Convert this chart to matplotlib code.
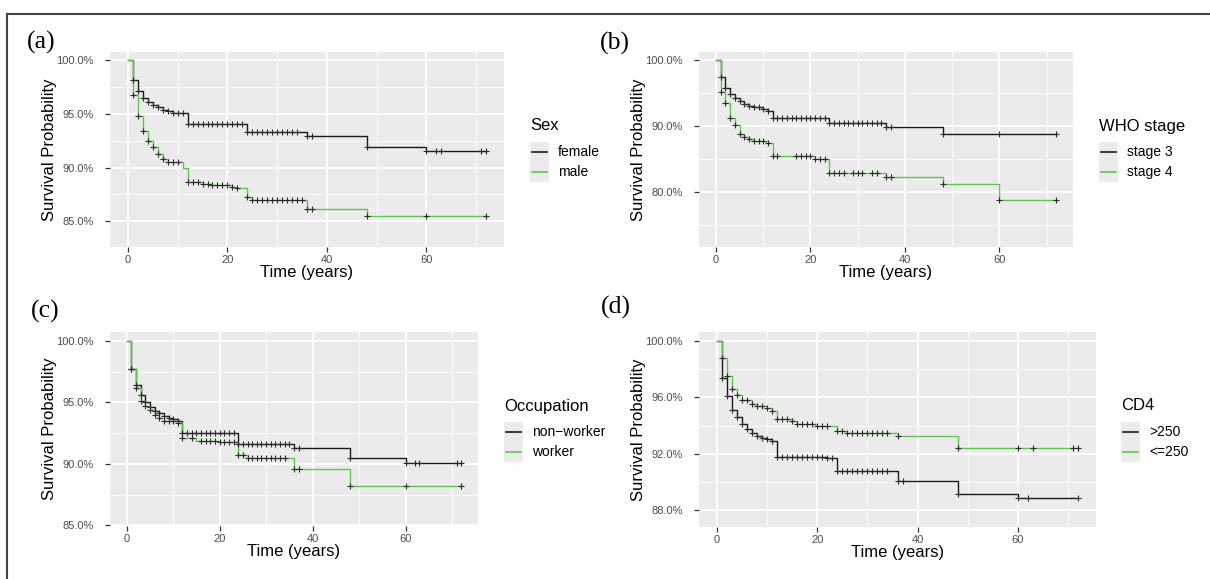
import numpy as np
import matplotlib
matplotlib.use("Agg")
import matplotlib.pyplot as plt
from matplotlib.patches import Rectangle
from matplotlib.lines import Line2D
from matplotlib.ticker import FuncFormatter

plt.rcParams['font.family'] = ['Liberation Sans', 'DejaVu Sans']

# ---------------- data ----------------
# (a) Sex
a_female_t = [1, 2, 3, 4, 5, 6, 7, 8, 9, 12, 24, 36, 48, 60]
a_female_s = [98.2, 97.1, 96.5, 96.1, 95.8, 95.6, 95.4, 95.25, 95.1, 94.1, 93.35, 92.9, 91.9, 91.5]
a_female_c = list(range(1, 12)) + list(range(12, 24)) + list(range(24, 35)) + [36, 37, 48, 60, 62, 63, 71, 72]
a_male_t = [1, 2, 3, 4, 5, 6, 7, 8, 11, 12, 15, 17, 21, 22, 24, 25, 36, 48]
a_male_s = [96.8, 94.85, 93.45, 92.45, 91.9, 91.3, 90.8, 90.5, 89.95, 88.65, 88.5, 88.35, 88.2, 88.1, 87.25, 87.0, 86.15, 85.45]
a_male_c = list(range(1, 11)) + list(range(12, 23)) + list(range(24, 36)) + [36, 37, 48, 60, 72]

# (b) WHO stage
b_s3_t = [1, 2, 3, 4, 5, 6, 7, 8, 10, 11, 12, 24, 36, 48]
b_s3_s = [97.4, 95.7, 94.8, 94.2, 93.7, 93.3, 93.05, 92.8, 92.5, 92.3, 91.25, 90.4, 89.8, 88.8]
b_s3_c = list(range(1, 12)) + list(range(12, 24)) + list(range(24, 36)) + [36, 37, 48, 60, 72]
b_s4_t = [1, 2, 3, 4, 5, 6, 7, 8, 11, 12, 21, 24, 36, 48, 60]
b_s4_s = [95.2, 93.5, 91.15, 90.15, 88.8, 88.3, 88.0, 87.7, 87.35, 85.4, 85.0, 82.9, 82.2, 81.1, 78.8]
b_s4_c = list(range(1, 14)) + [17, 18, 19, 20, 21, 22, 23, 24, 25, 26, 27, 29, 30, 31, 33, 34, 36, 37, 48, 60, 72]

# (c) Occupation
c_nw_t = [1, 2, 3, 4, 5, 6, 7, 8, 9, 10, 11, 12, 24, 36, 48, 60]
c_nw_s = [97.75, 96.45, 95.6, 95.05, 94.65, 94.3, 94.1, 93.9, 93.75, 93.65, 93.5, 92.5, 91.65, 91.25, 90.45, 90.05]
c_nw_c = list(range(1, 12)) + list(range(12, 24)) + list(range(24, 36)) + [36, 37, 48, 60, 62, 63, 71, 72]
c_w_t = [1, 2, 3, 4, 5, 6, 7, 8, 11, 12, 15, 20, 24, 26, 36, 48]
c_w_s = [97.7, 96.2, 95.1, 94.7, 94.35, 94.0, 93.7, 93.5, 93.3, 92.1, 91.9, 91.75, 90.7, 90.5, 89.6, 88.2]
c_w_c = list(range(1, 12)) + [12, 14] + list(range(16, 24)) + [24, 25] + list(range(26, 35)) + [36, 37, 48, 60, 72]

# (d) CD4
d_hi_t = [1, 2, 3, 4, 5, 6, 7, 8, 9, 10, 11, 12, 22, 24, 36, 48, 60]
d_hi_s = [97.4, 96.1, 95.1, 94.6, 94.15, 93.8, 93.5, 93.25, 93.15, 93.05, 92.9, 91.8, 91.7, 90.8, 90.1, 89.15, 88.85]
d_hi_c = list(range(1, 12)) + list(range(12, 24)) + list(range(24, 35)) + [36, 37, 48, 60, 62, 72]
d_lo_t = [1, 2, 3, 4, 5, 7, 8, 10, 11, 12, 15, 16, 20, 24, 26, 36, 48]
d_lo_s = [98.8, 97.5, 96.6, 96.15, 95.8, 95.55, 95.4, 95.25, 95.05, 94.45, 94.3, 94.1, 94.0, 93.65, 93.45, 93.25, 92.4]
d_lo_c = list(range(1, 12)) + list(range(12, 23)) + list(range(24, 35)) + [36, 48, 60, 63, 71, 72]

panel_tags = ["(a)", "(b)", "(c)", "(d)"]
legend_titles = ["Sex", "WHO stage", "Occupation", "CD4"]
legend_labels = [["female", "male"], ["stage 3", "stage 4"],
                 ["non\u2212worker", "worker"], [">250", "<=250"]]
x_ticks = [0, 20, 40, 60]
y_ticks = [[85, 90, 95, 100], [80, 90, 100], [85, 90, 95, 100], [88, 92, 96, 100]]
y_minor = [[87.5, 92.5, 97.5], [75, 85, 95], [87.5, 92.5, 97.5], [90, 94, 98]]
x_minor = [10, 30, 50, 70]
y_lims = [(82.6, 100.77), (71.6, 101.2), (84.95, 100.72), (86.83, 100.63)]
t_max = 72

BLACK = '#1a1a1a'
GREEN = '#62c453'

series = [
    [(a_female_t, a_female_s, a_female_c, BLACK), (a_male_t, a_male_s, a_male_c, GREEN)],
    [(b_s3_t, b_s3_s, b_s3_c, BLACK), (b_s4_t, b_s4_s, b_s4_c, GREEN)],
    [(c_nw_t, c_nw_s, c_nw_c, BLACK), (c_w_t, c_w_s, c_w_c, GREEN)],
    [(d_hi_t, d_hi_s, d_hi_c, BLACK), (d_lo_t, d_lo_s, d_lo_c, GREEN)],
]

W, H = 1210, 579
fig = plt.figure(figsize=(W / 100, H / 100), dpi=100)

def fx(px):
    return px / W

def fy(py):
    return 1 - py / H

# axes boxes in pixels (left, right, top, bottom)
boxes = [(110, 504, 52, 247), (699, 1073, 52, 247), (110, 478, 332, 526), (699, 1096, 332, 527)]
tag_pos = [(27, 42), (600, 43), (31, 311), (601, 307)]
leg_pos = [(530, 126), (1099, 126), (504, 406), (1121, 406)]

def surv_at(times, surv, c):
    times = np.asarray(times, float)
    surv = np.asarray(surv, float)
    idx = np.searchsorted(times, np.asarray(c, float), side='right') - 1
    return np.where(idx < 0, 100.0, surv[np.clip(idx, 0, None)])

for i in range(4):
    l, r, t, b = boxes[i]
    ax = fig.add_axes([fx(l), fy(b), (r - l) / W, (b - t) / H])
    ax.set_facecolor('#ebebeb')
    for sp in ax.spines.values():
        sp.set_visible(False)
    ax.set_xlim(-3.6, 75.6)
    ax.set_ylim(*y_lims[i])
    ax.set_xticks(x_ticks)
    ax.set_xticks(x_minor, minor=True)
    ax.set_yticks(y_ticks[i])
    ax.set_yticks(y_minor[i], minor=True)
    ax.yaxis.set_major_formatter(FuncFormatter(lambda v, p: f"{v:.1f}%"))
    ax.grid(which='major', color='white', lw=1.3)
    ax.grid(which='minor', color='white', lw=0.6)
    ax.set_axisbelow(True)
    ax.tick_params(which='major', length=3.5, width=0.9, color='#333333',
                   labelcolor='#4d4d4d', labelsize=8)
    ax.tick_params(axis='x', which='major', pad=2)
    ax.tick_params(axis='y', which='major', pad=8)
    ax.tick_params(which='minor', length=0)
    ax.set_xlabel("Time (years)", fontsize=12, labelpad=0.5)
    ax.set_ylabel("Survival Probability", fontsize=12, labelpad=0)

    for (tt, ss, cc, col) in series[i]:
        xs = [0] + list(tt) + [t_max]
        ys = [100] + list(ss) + [ss[-1]]
        ax.step(xs, ys, where='post', color=col, lw=1.0, zorder=3)
        ax.plot(cc, surv_at(tt, ss, cc), ls='none', marker='+', ms=4,
                mew=0.8, color='#2a2a2a', zorder=4)

    # panel tag
    fig.text(fx(tag_pos[i][0]), fy(tag_pos[i][1]), panel_tags[i],
             family='Liberation Serif', fontsize=18.5, ha='left', va='center')

    # legend (ggplot style)
    lx, ly = leg_pos[i]
    fig.text(fx(lx), fy(ly), legend_titles[i], fontsize=12, ha='left', va='center')
    fig.patches.append(Rectangle((fx(lx), fy(ly + 56)), 19 / W, 40 / H,
                                 transform=fig.transFigure, facecolor='#ebebeb',
                                 edgecolor='none'))
    for k, (lab, col) in enumerate(zip(legend_labels[i], [BLACK, GREEN])):
        yy = ly + 26 + 20 * k
        fig.lines.append(Line2D([fx(lx + 2), fx(lx + 17)], [fy(yy), fy(yy)],
                                transform=fig.transFigure, color=col, lw=1.2))
        fig.text(fx(lx + 28), fy(yy), lab, fontsize=10, ha='left', va='center')

# outer frame (top and left edges visible)
fig.lines.append(Line2D([fx(7), fx(W)], [fy(14), fy(14)], transform=fig.transFigure,
                        color='#444444', lw=1.5))
fig.lines.append(Line2D([fx(7), fx(7)], [fy(14), fy(H)], transform=fig.transFigure,
                        color='#444444', lw=1.5))

fig.savefig("out.png", dpi=100)
